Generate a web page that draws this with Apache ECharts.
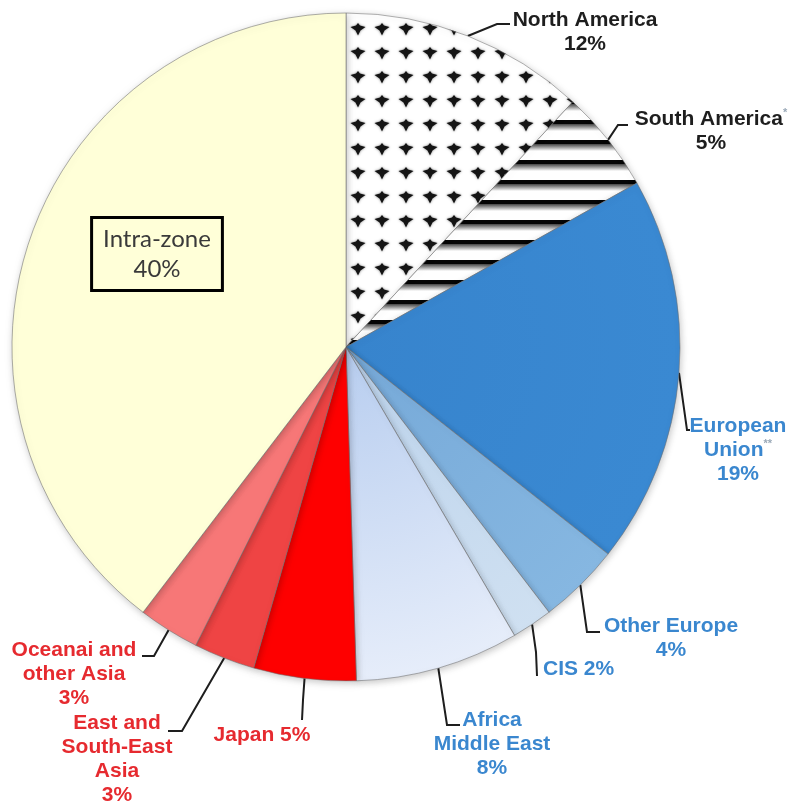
<!DOCTYPE html>
<html>
<head>
<meta charset="utf-8">
<title>Export destinations</title>
<script src="https://cdn.jsdelivr.net/npm/echarts@6/dist/echarts.min.js"></script>
<style>
  html, body { margin: 0; padding: 0; background: #ffffff; }
  #chart { width: 792px; height: 806px; }
</style>
</head>
<body>
<div id="chart"></div>
<script>
// Share of exports by destination, in percent, clockwise from the top
const regions = [
  'North America', 'South America', 'European Union', 'Other Europe', 'CIS',
  'Africa Middle East', 'Japan', 'East and South-East Asia',
  'Oceanai and other Asia', 'Intra-zone'
];
const shares = [12, 5, 19, 4, 2, 8, 5, 3, 3, 40];

// Label captions (rich-text markup for footnote marks)
const captions = [
  'North America', 'South America{sup|*}', 'European\nUnion{sup|**}',
  'Other Europe', 'CIS', 'Africa\nMiddle East', 'Japan',
  'East and\nSouth-East\nAsia', 'Oceanai and\nother Asia', 'Intra-zone'
];
const singleLine = [false, false, false, false, true, false, true, false, false, false];

const CX = 346, CY = 347, R = 334;
const BLUE_TEXT = '#3a87cf', RED_TEXT = '#e62a2f', DARK_TEXT = '#1e1e1e';

// Label placement: text anchor plus the bend and end of the leader line
const labelSpots = [
  { x: 585, y: 8,   align: 'center', bend: [497, 24],  end: [510, 24] },
  { x: 711, y: 107, align: 'center', bend: [618, 125], end: [628, 125] },
  { x: 738, y: 414, align: 'center', bend: [687, 430], end: [690, 430] },
  { x: 671, y: 614, align: 'center', bend: [587, 632], end: [600, 632] },
  { x: 543, y: 657, align: 'left',   bend: [536, 652], end: [537, 676] },
  { x: 492, y: 708, align: 'center', bend: [447, 725], end: [460, 725] },
  { x: 262, y: 723, align: 'center', bend: [303, 700], end: [302, 720] },
  { x: 117, y: 711, align: 'center', bend: [182, 731], end: [168, 731] },
  { x: 74,  y: 638, align: 'center', bend: [154, 656], end: [142, 656] },
  { x: 157, y: 254, align: 'center', verticalAlign: 'middle' }
];

// Dotted arrowhead texture
function arrowTile() {
  const c = document.createElement('canvas');
  c.width = 24; c.height = 24;
  const g = c.getContext('2d');
  g.fillStyle = '#ffffff';
  g.fillRect(0, 0, 24, 24);
  g.fillStyle = '#141414';
  g.shadowColor = 'rgba(0,0,0,0.5)';
  g.shadowBlur = 2.5;
  const draw = (x, y) => {
    g.beginPath();
    g.moveTo(x - 7.5, y - 1);
    g.lineTo(x - 2, y - 2.5);
    g.lineTo(x, y - 5);
    g.lineTo(x + 2, y - 2.5);
    g.lineTo(x + 7.5, y - 1);
    g.lineTo(x + 2.5, y + 2.5);
    g.lineTo(x, y + 7.5);
    g.lineTo(x - 2.5, y + 2.5);
    g.closePath();
    g.fill();
  };
  [-2, 22].forEach(x => [4, 28].forEach(y => draw(x, y)));
  return c;
}

// Horizontal shaded stripes texture
function stripeTile() {
  const c = document.createElement('canvas');
  c.width = 4; c.height = 20;
  const g = c.getContext('2d');
  g.fillStyle = '#ffffff';
  g.fillRect(0, 0, 4, 20);
  g.fillStyle = '#050505';
  g.fillRect(0, 0, 4, 4);
  const grad = g.createLinearGradient(0, 4, 0, 11);
  grad.addColorStop(0, '#444444');
  grad.addColorStop(1, '#ffffff');
  g.fillStyle = grad;
  g.fillRect(0, 4, 4, 7);
  return c;
}

function radial(inner, outer) {
  return {
    type: 'radial', x: CX, y: CY, r: R, global: true,
    colorStops: [{ offset: 0, color: inner }, { offset: 1, color: outer }]
  };
}

const fills = [
  { image: arrowTile(), repeat: 'repeat' },
  { image: stripeTile(), repeat: 'repeat' },
  radial('#3784cd', '#3a89d2'),
  radial('#76a9d8', '#86b7e1'),
  radial('#bcd3ec', '#cfe0f1'),
  radial('#b7cdef', '#e6edfa'),
  '#fe0000',
  '#ef4444',
  '#f77777',
  '#ffffd8'
];
const textColors = [DARK_TEXT, DARK_TEXT, BLUE_TEXT, BLUE_TEXT, BLUE_TEXT, BLUE_TEXT,
  RED_TEXT, RED_TEXT, RED_TEXT, '#3a3a3a'];

const data = regions.map((name, i) => {
  const item = {
    name: name,
    value: shares[i],
    itemStyle: { color: fills[i] },
    label: {
      color: textColors[i],
      formatter: captions[i] + (singleLine[i] ? ' ' : '\n') + shares[i] + '%'
    }
  };
  if (i === regions.length - 1) {
    item.label = {
      position: 'inside',
      formatter: captions[i] + '\n' + shares[i] + '%',
      color: textColors[i],
      fontFamily: 'Lato, "Open Sans", sans-serif',
      fontWeight: 'normal',
      fontSize: 24,
      lineHeight: 30,
      backgroundColor: '#ffffd8',
      borderColor: '#000000',
      borderWidth: 3,
      padding: [5, 10, 5, 10]
    };
    item.labelLine = { show: false };
  }
  return item;
});

const chart = echarts.init(document.getElementById('chart'), null, { renderer: 'canvas' });
chart.setOption({
  animation: false,
  backgroundColor: '#ffffff',
  series: [{
    type: 'pie',
    center: [CX, CY],
    radius: R,
    startAngle: 90,
    clockwise: true,
    avoidLabelOverlap: false,
    minShowLabelAngle: 0,
    data: data,
    itemStyle: {
      borderColor: 'rgba(110,110,110,0.55)',
      borderWidth: 1,
      shadowBlur: 7,
      shadowColor: 'rgba(0,0,0,0.22)',
      shadowOffsetX: 1,
      shadowOffsetY: 2
    },
    label: {
      show: true,
      position: 'outside',
      fontFamily: '"Liberation Sans", Arial, sans-serif',
      fontWeight: 'bold',
      fontSize: 21,
      lineHeight: 24,
      align: 'center',
      rich: {
        sup: { fontSize: 11, fontWeight: 'bold', color: '#9aa9b8', verticalAlign: 'top', lineHeight: 12 }
      }
    },
    labelLine: {
      show: true,
      lineStyle: { color: '#1e1e1e', width: 2 }
    },
    emphasis: { disabled: true },
    labelLayout: function (p) {
      const s = labelSpots[p.dataIndex];
      const out = { x: s.x, y: s.y, align: s.align, verticalAlign: s.verticalAlign || 'top' };
      if (s.bend && p.labelLinePoints && p.labelLinePoints.length) {
        out.labelLinePoints = [p.labelLinePoints[0], s.bend, s.end];
      }
      return out;
    }
  }]
});
</script>
</body>
</html>
